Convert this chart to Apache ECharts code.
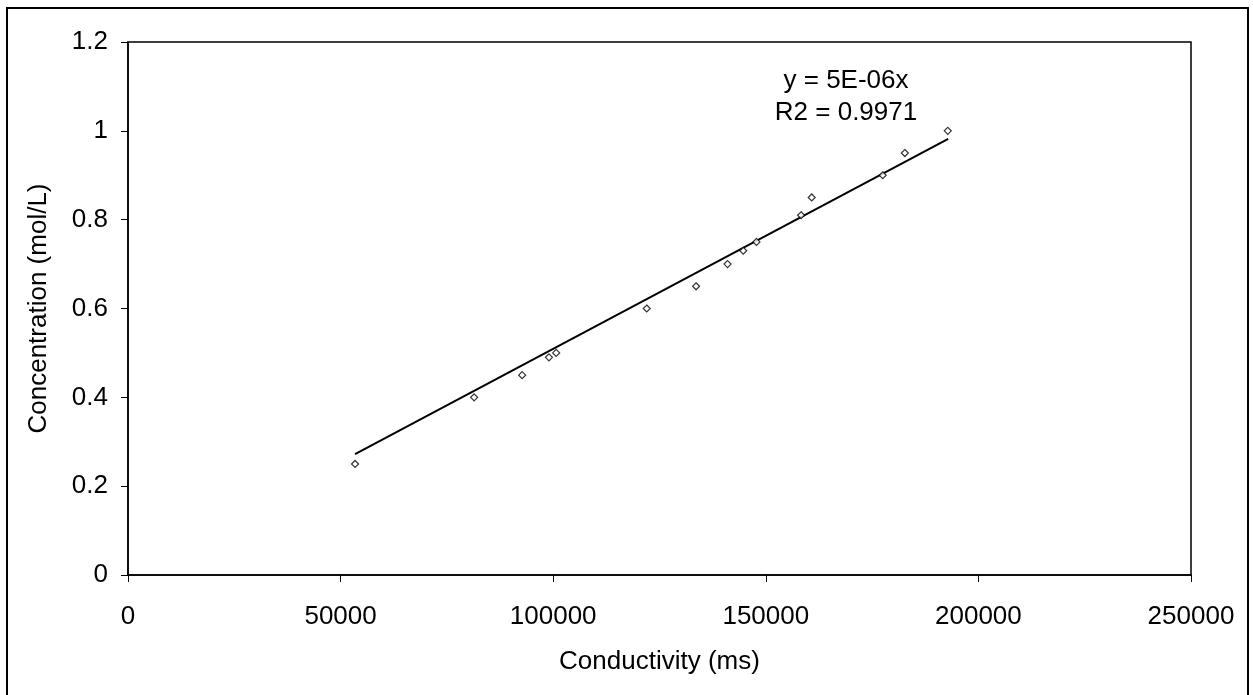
<!DOCTYPE html>
<html>
<head>
<meta charset="utf-8">
<script src="https://cdn.jsdelivr.net/npm/echarts@6/dist/echarts.min.js"></script>
<style>
html,body{margin:0;padding:0;background:#fff;}
#chart{width:1253px;height:695px;}
</style>
</head>
<body>
<div id="chart"></div>
<script>
// Measured data (conductivity in ms, concentration in mol/L)
const conductivity = [53400, 81400, 92700, 99000, 100700, 122000, 133600, 141000, 144700, 147800, 158300, 160800, 177500, 182700, 192800];
const concentration = [0.25, 0.40, 0.45, 0.49, 0.50, 0.60, 0.65, 0.70, 0.73, 0.75, 0.81, 0.85, 0.90, 0.95, 1.00];
// Trendline endpoints (linear fit through origin, as drawn)
const trendX = [53400, 192900];
const trendY = [0.272, 0.982];
const xTicks = [0, 50000, 100000, 150000, 200000, 250000];
const yTicks = [0, 0.2, 0.4, 0.6, 0.8, 1, 1.2];
const eqLines = ['y = 5E-06x', 'R2 = 0.9971'];

const FONT = '"Liberation Sans", Arial, sans-serif';
const chart = echarts.init(document.getElementById('chart'));
const points = conductivity.map((x, i) => [x, concentration[i]]);
const trend = trendX.map((x, i) => [x, trendY[i]]);

chart.setOption({
  animation: false,
  backgroundColor: '#fff',
  grid: { left: 128, right: 62, top: 42, bottom: 120, show: true, borderColor: '#000', borderWidth: 1.5, backgroundColor: 'transparent' },
  xAxis: {
    type: 'value', min: 0, max: 250000, interval: 50000,
    name: 'Conductivity (ms)', nameLocation: 'middle', nameGap: 74,
    nameTextStyle: { fontFamily: FONT, fontSize: 26, color: '#000' },
    axisLine: { show: true, onZero: false, lineStyle: { color: '#000', width: 1.5 } },
    axisTick: { show: true, length: 7, lineStyle: { color: '#000' } },
    axisLabel: { fontFamily: FONT, fontSize: 26, color: '#000', margin: 29, formatter: v => String(v) },
    splitLine: { show: false }
  },
  yAxis: {
    type: 'value', min: 0, max: 1.2, interval: 0.2,
    name: 'Concentration (mol/L)', nameLocation: 'middle', nameGap: 76,
    nameTextStyle: { fontFamily: FONT, fontSize: 26, color: '#000' },
    axisLine: { show: true, onZero: false, lineStyle: { color: '#000', width: 1.5 } },
    axisTick: { show: true, length: 7, lineStyle: { color: '#000' } },
    axisLabel: { fontFamily: FONT, fontSize: 26, color: '#000', margin: 20,
      formatter: v => { const t = yTicks.find(k => Math.abs(k - v) < 1e-9); return String(t !== undefined ? t : v); } },
    splitLine: { show: false }
  },
  series: [
    {
      type: 'line', data: trend, symbol: 'none', silent: true,
      lineStyle: { color: '#000', width: 2 }, z: 2
    },
    {
      type: 'scatter', data: points, symbol: 'diamond', symbolSize: 7,
      itemStyle: { color: '#fff', borderColor: '#000', borderWidth: 1.2 }, z: 3
    }
  ],
  graphic: [
    { type: 'text', x: 846, y: 81, style: { text: eqLines[0], font: '26px ' + FONT, fill: '#000', align: 'center', verticalAlign: 'middle' }, z: 10 },
    { type: 'text', x: 846, y: 113, style: { text: eqLines[1], font: '26px ' + FONT, fill: '#000', align: 'center', verticalAlign: 'middle' }, z: 10 },
    { type: 'polyline', shape: { points: [[7, 695], [7, 8], [1248, 8], [1248, 695]] }, style: { stroke: '#000', lineWidth: 2, fill: null }, z: 10 }
  ]
});
</script>
</body>
</html>
